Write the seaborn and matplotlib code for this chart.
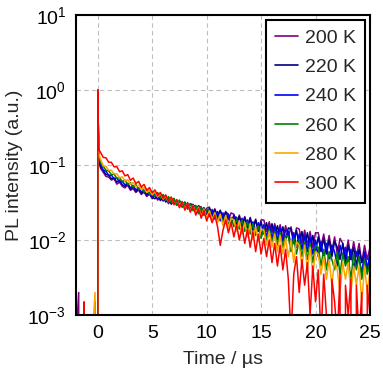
"""
Temperature-dependent PL decay (log scale), 200-300 K.
"""
import matplotlib
matplotlib.use("Agg")
import matplotlib.pyplot as plt
from matplotlib.ticker import LogLocator, NullFormatter
import numpy as np
import pandas as pd
import seaborn as sns

# time axis (µs): baseline before the pulse, the pulse itself, then 0.25 µs bins
TIME_PRE = [-2.0, -1.75, -1.5, -1.25, -1.0, -0.75, -0.5, -0.25, -0.05]
TIME_PEAK = [0.0, 0.05, 0.1]
TIME_MAIN = list(np.round(np.arange(1, 101) * 0.25, 2))
TIME = TIME_PRE + TIME_PEAK + TIME_MAIN

TEMPS = ["200 K", "220 K", "240 K", "260 K", "280 K", "300 K"]
COLORS = ["#800080", "#000080", "#0000ff", "#008000", "#ffa500", "#ff0000"]

# raw photon counts (peak = 2000 counts)
counts_200 = [
    1, 4, 0, 1, 0, 1, 0, 3, 0,
    2000, 560, 230,
    181, 160, 141, 138, 126, 131, 111, 118, 104, 99, 108, 92, 97, 86, 93, 81, 87, 76, 82, 71,
    79, 68, 76, 66, 73, 61, 70, 59, 68, 56, 64, 55, 63, 51, 60, 49, 57, 55, 46, 53,
    55, 43, 52, 41, 50, 39, 48, 37, 46, 44, 34, 43, 31, 41, 30, 40, 29, 38, 27, 37,
    37, 26, 35, 25, 33, 24, 32, 21, 31, 22, 30, 19, 29, 28, 18, 27, 17, 26, 16, 25,
    25, 16, 24, 15, 23, 14, 22, 13, 21, 18, 12, 20, 11, 19, 12, 18, 10, 17, 11, 16,
]
counts_220 = [
    0, 1, 0, 0, 1, 0, 1, 0, 0,
    2000, 580, 245,
    191, 170, 149, 147, 131, 134, 118, 126, 109, 104, 112, 95, 103, 89, 97, 84, 90, 79, 84, 74,
    71, 80, 67, 76, 64, 73, 60, 70, 58, 67, 55, 64, 52, 61, 58, 48, 57, 45, 54, 43,
    53, 41, 51, 39, 49, 37, 47, 44, 34, 43, 32, 41, 30, 40, 29, 39, 27, 37, 26, 35,
    24, 34, 23, 33, 22, 31, 21, 30, 20, 29, 28, 18, 27, 17, 26, 16, 25, 15, 23, 14,
    22, 14, 21, 13, 20, 12, 19, 16, 11, 18, 10, 17, 11, 16, 9, 15, 10, 14, 8, 13,
]
counts_240 = [
    1, 0, 0, 1, 0, 0, 1, 0, 0,
    2000, 600, 255,
    209, 171, 166, 145, 147, 131, 134, 118, 121, 109, 114, 99, 106, 93, 99, 87, 93, 81, 87, 76,
    83, 71, 80, 68, 75, 64, 71, 60, 68, 57, 65, 54, 61, 51, 58, 56, 45, 54, 43, 51,
    41, 51, 38, 48, 36, 46, 34, 44, 32, 41, 40, 29, 39, 27, 37, 26, 35, 25, 34, 23,
    32, 22, 31, 21, 30, 20, 29, 19, 27, 26, 17, 25, 16, 24, 15, 23, 14, 22, 13, 20,
    12, 19, 11, 18, 10, 17, 14, 9, 17, 12, 16, 9, 15, 8, 14, 12, 7, 14, 8, 13,
]
counts_260 = [
    0, 1, 0, 0, 0, 1, 0, 2, 0,
    2000, 620, 265,
    216, 193, 170, 167, 149, 151, 133, 136, 120, 126, 110, 116, 101, 110, 94, 101, 87, 95, 81, 88,
    76, 86, 72, 81, 67, 76, 63, 72, 58, 68, 55, 64, 52, 61, 49, 58, 45, 55, 43, 51,
    50, 39, 47, 36, 45, 34, 43, 32, 40, 30, 38, 28, 37, 26, 35, 24, 33, 23, 31, 21,
    29, 20, 28, 19, 26, 17, 25, 16, 23, 22, 14, 21, 13, 20, 12, 19, 11, 18, 10, 17,
    16, 9, 15, 8, 14, 11, 8, 14, 7, 13, 9, 12, 6, 13, 8, 12, 6, 11, 7, 10,
]
counts_280 = [
    0, 0, 1, 0, 1, 0, 1, 4, 0,
    2000, 650, 280,
    240, 195, 192, 170, 170, 152, 153, 135, 139, 123, 127, 111, 117, 102, 108, 94, 100, 86, 93, 80,
    88, 75, 83, 70, 78, 65, 74, 60, 69, 56, 65, 52, 61, 49, 58, 46, 55, 42, 52, 40,
    49, 37, 46, 34, 44, 31, 42, 29, 39, 37, 26, 36, 24, 34, 22, 32, 20, 30, 19, 28,
    27, 17, 26, 16, 24, 14, 23, 13, 21, 12, 20, 10, 19, 17, 9, 17, 8, 16, 7, 14,
    13, 7, 12, 6, 11, 5, 11, 8, 4, 10, 6, 10, 4, 9, 5, 9, 3, 9, 4, 8,
]
counts_300 = [
    0, 1, 0, 3, 0, 1, 0, 1, 0,
    2000, 700, 320,
    296, 253, 249, 218, 217, 189, 190, 163, 167, 143, 149, 125, 134, 113, 121, 102, 110, 92, 100, 85,
    93, 78, 86, 72, 80, 65, 75, 60, 69, 54, 65, 50, 61, 47, 57, 43, 53, 39, 50, 36,
    45, 34, 43, 30, 17, 27, 37, 25, 34, 22, 32, 20, 30, 18, 28, 16, 26, 14, 24, 13,
    21, 12, 20, 10, 18, 9, 17, 8, 15, 6, 1, 7, 12, 4, 11, 5, 10, 2, 9, 3,
    8, 1, 7, 2, 0, 6, 3, 1, 7, 0, 5, 2, 6, 0, 5, 1, 4, 0, 5, 2,
]
COUNTS = [counts_200, counts_220, counts_240, counts_260, counts_280, counts_300]


def build_frame():
    rows = []
    for temp, c in zip(TEMPS, COUNTS):
        c = np.asarray(c, dtype=float)
        norm = c / c.max()
        rows.append(pd.DataFrame({"time": TIME, "intensity": norm, "temp": temp}))
    return pd.concat(rows, ignore_index=True)


def main():
    df = build_frame()

    sns.set_theme(style="white")
    plt.rcParams["font.family"] = ["Liberation Sans", "DejaVu Sans"]
    plt.rcParams["mathtext.default"] = "regular"

    fig = plt.figure(figsize=(3.83, 3.75), dpi=100)
    ax = fig.add_axes([0.1984, 0.16, 0.7676, 0.80])

    sns.lineplot(
        data=df, x="time", y="intensity", hue="temp",
        palette=COLORS, hue_order=TEMPS,
        estimator=None, errorbar=None, sort=False,
        linewidth=1.1, legend=False, ax=ax,
    )

    ax.set_yscale("log")
    ax.set_xlim(-2, 25)
    ax.set_ylim(1e-3, 1e1)
    ax.set_xticks([0, 5, 10, 15, 20, 25])
    ax.yaxis.set_major_locator(LogLocator(base=10, numticks=10))
    ax.yaxis.set_minor_locator(LogLocator(base=10, subs=np.arange(2, 10), numticks=10))
    ax.yaxis.set_minor_formatter(NullFormatter())

    ax.grid(True, which="major", color="#bdbdbd", linestyle=(0, (4, 3)), linewidth=0.8)
    ax.set_axisbelow(True)

    for sp in ax.spines.values():
        sp.set_linewidth(1.5)
        sp.set_color("black")

    ax.tick_params(which="both", direction="in", colors="black", labelsize=14)
    ax.tick_params(which="major", length=4.5, width=1.2, pad=7)
    ax.tick_params(which="minor", length=2.5, width=0.9)
    ax.tick_params(axis="x", which="minor", bottom=False)

    ax.set_xlabel("Time / µs", fontsize=14, labelpad=7)
    ax.set_ylabel("PL intensity (a.u.)", fontsize=14, labelpad=3)

    handles = ax.get_lines()[:len(TEMPS)]
    leg = ax.legend(
        handles, TEMPS, loc="upper right", fontsize=14,
        frameon=True, fancybox=False, framealpha=1, edgecolor="black",
        handlelength=1.15, handletextpad=0.35, labelspacing=0.6,
        borderpad=0.48, borderaxespad=0.25,
    )
    leg.get_frame().set_linewidth(1.5)
    for h in leg.get_lines():
        h.set_linewidth(1.2)

    fig.savefig("out.png", dpi=100)


if __name__ == "__main__":
    main()
